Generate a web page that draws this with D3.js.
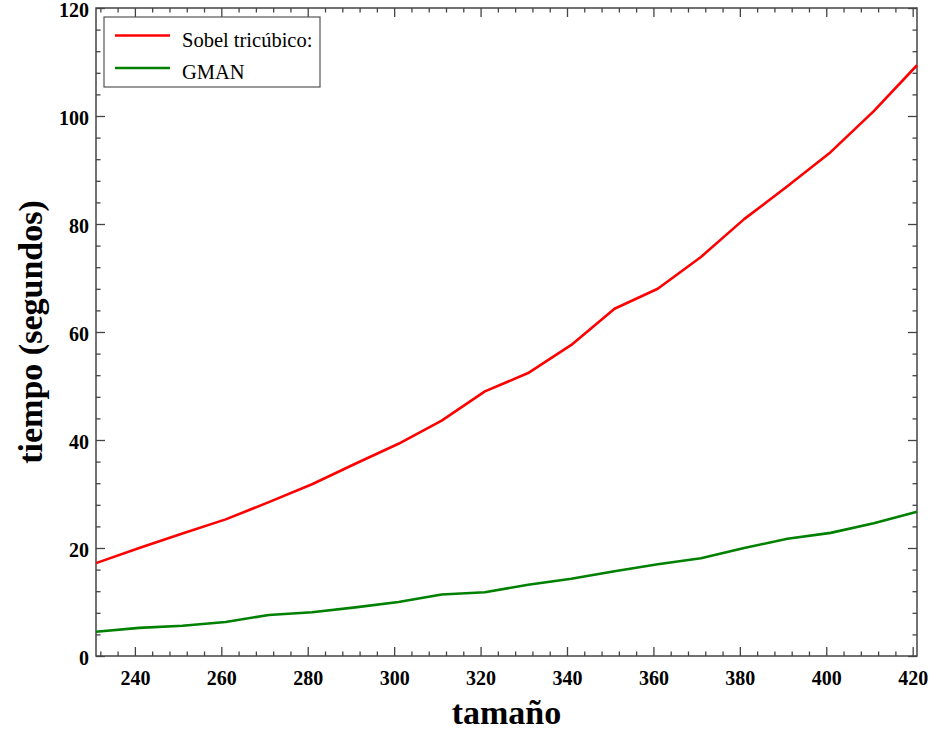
<!DOCTYPE html>
<html>
<head>
<meta charset="utf-8">
<script src="https://cdn.jsdelivr.net/npm/d3@7"></script>
<style>
  body { margin: 0; background: #fff; }
  .tick text { font-family: "Liberation Serif", "Times New Roman", serif; font-weight: bold; font-size: 20px; fill: #000; }
</style>
</head>
<body>
<div id="app"></div>
<script>
// Data
const tamano = [231, 241, 251, 261, 271, 281, 291, 301, 311, 321, 331, 341, 351, 361, 371, 381, 391, 401, 411, 421];
const sobel = [17.2, 20.0, 22.7, 25.3, 28.5, 31.8, 35.6, 39.3, 43.6, 49.0, 52.4, 57.6, 64.3, 68.0, 73.9, 80.9, 87.0, 93.3, 100.9, 109.4];
const gman = [4.5, 5.2, 5.6, 6.3, 7.6, 8.1, 9.0, 10.0, 11.4, 11.8, 13.2, 14.3, 15.7, 17.0, 18.1, 20.0, 21.7, 22.8, 24.6, 26.7];
const xMajor = [240, 260, 280, 300, 320, 340, 360, 380, 400, 420];
const yMajor = [0, 20, 40, 60, 80, 100, 120];
const seriesNames = ["Sobel tricúbico:", "GMAN"];
const seriesColors = ["#ff0000", "#008000"];

const width = 933, height = 732;
const margin = { top: 8, right: 16, bottom: 76, left: 96 };

const d3 = window.d3;

const svg = d3.select("#app").append("svg")
  .attr("width", width)
  .attr("height", height);

const x = d3.scaleLinear().domain([231, 421]).range([margin.left, width - margin.right]);
const y = d3.scaleLinear().domain([0, 120]).range([height - margin.bottom, margin.top]);

const xMinor = d3.range(232, 421, 4).filter(v => !xMajor.includes(v));
const yMinor = d3.range(4, 120, 4).filter(v => !yMajor.includes(v));

const axisColor = "#444";
const styleAxis = g => {
  g.select(".domain").remove();
  g.selectAll(".tick line").attr("stroke", axisColor).attr("stroke-width", 1.3);
};

// bottom
svg.append("g")
  .attr("transform", `translate(0,${y(0)})`)
  .call(d3.axisBottom(x).tickValues(xMajor).tickSize(-9).tickPadding(15).tickFormat(d3.format("d")))
  .call(styleAxis);
svg.append("g")
  .attr("transform", `translate(0,${y(0)})`)
  .call(d3.axisBottom(x).tickValues(xMinor).tickSize(-4.5).tickFormat(""))
  .call(styleAxis);
// top
svg.append("g")
  .attr("transform", `translate(0,${y(120)})`)
  .call(d3.axisTop(x).tickValues(xMajor).tickSize(-9).tickFormat(""))
  .call(styleAxis);
svg.append("g")
  .attr("transform", `translate(0,${y(120)})`)
  .call(d3.axisTop(x).tickValues(xMinor).tickSize(-4.5).tickFormat(""))
  .call(styleAxis);
// left
svg.append("g")
  .attr("transform", `translate(${x(231)},0)`)
  .call(d3.axisLeft(y).tickValues(yMajor).tickSize(-9).tickPadding(7).tickFormat(d3.format("d")))
  .call(styleAxis)
  .call(g => g.selectAll(".tick text").attr("dy", "0.42em"));
svg.append("g")
  .attr("transform", `translate(${x(231)},0)`)
  .call(d3.axisLeft(y).tickValues(yMinor).tickSize(-4.5).tickFormat(""))
  .call(styleAxis);
// right
svg.append("g")
  .attr("transform", `translate(${x(421)},0)`)
  .call(d3.axisRight(y).tickValues(yMajor).tickSize(-9).tickFormat(""))
  .call(styleAxis);
svg.append("g")
  .attr("transform", `translate(${x(421)},0)`)
  .call(d3.axisRight(y).tickValues(yMinor).tickSize(-4.5).tickFormat(""))
  .call(styleAxis);

// frame
svg.append("rect")
  .attr("x", x(231))
  .attr("y", y(120))
  .attr("width", x(421) - x(231))
  .attr("height", y(0) - y(120))
  .attr("fill", "none")
  .attr("stroke", axisColor)
  .attr("stroke-width", 1.5);

// lines
const line = d3.line().x((d, i) => x(tamano[i])).y(d => y(d));
[sobel, gman].forEach((s, i) => {
  svg.append("path")
    .datum(s)
    .attr("fill", "none")
    .attr("stroke", seriesColors[i])
    .attr("stroke-width", 2.6)
    .attr("stroke-linejoin", "round")
    .attr("d", line);
});

// legend
const legend = svg.append("g").attr("class", "legend");
legend.append("clipPath").attr("id", "legclip")
  .append("rect").attr("x", 104).attr("y", 17).attr("width", 207).attr("height", 70);
legend.append("rect")
  .attr("x", 104).attr("y", 17).attr("width", 216).attr("height", 70)
  .attr("fill", "#fff").attr("stroke", "#555").attr("stroke-width", 1.2);
const items = legend.append("g").attr("clip-path", "url(#legclip)")
  .selectAll("g").data(seriesNames).join("g")
  .attr("transform", (d, i) => `translate(0,${35.5 + i * 32.5})`);
items.append("line")
  .attr("x1", 115).attr("x2", 170)
  .attr("stroke", (d, i) => seriesColors[i]).attr("stroke-width", 2.6);
items.append("text")
  .attr("x", 182).attr("y", 11)
  .attr("font-family", "Liberation Serif, Times New Roman, serif")
  .attr("font-size", 20.5)
  .text(d => d);

// axis titles
svg.append("text")
  .attr("x", (x(231) + x(421)) / 2)
  .attr("y", 724)
  .attr("text-anchor", "middle")
  .attr("font-family", "Liberation Serif, Times New Roman, serif")
  .attr("font-weight", "bold")
  .attr("font-size", 34)
  .text("tamaño");

svg.append("text")
  .attr("transform", `translate(42,${(y(0) + y(120)) / 2}) rotate(-90)`)
  .attr("text-anchor", "middle")
  .attr("font-family", "Liberation Serif, Times New Roman, serif")
  .attr("font-weight", "bold")
  .attr("font-size", 34)
  .text("tiempo (segundos)");
</script>
</body>
</html>
